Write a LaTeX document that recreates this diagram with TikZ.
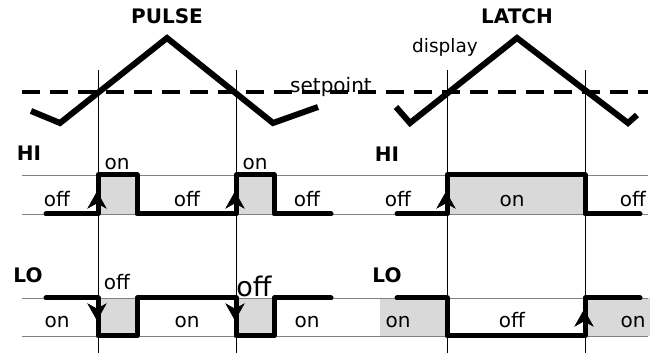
\documentclass[tikz,border=0pt]{standalone}
\usepackage{fontspec}
\setmainfont{DejaVu Sans}
\definecolor{fillgray}{HTML}{D9D9D9}
\definecolor{thingray}{HTML}{808080}
\tikzset{
  sig/.style={line width=5pt, line join=round, line cap=round},
  tri/.style={line width=6pt, line join=miter},
  thinline/.style={line width=0.9pt, draw=thingray},
  vline/.style={line width=0.9pt, draw=black},
  shade/.style={fill=fillgray, draw=none},
  lbl/.style={inner sep=0pt, anchor=base, font=\fontsize{20}{24}\selectfont},
  bigl/.style={inner sep=0pt, anchor=base, font=\fontsize{27}{31}\selectfont},
  ttl/.style={inner sep=0pt, anchor=base, font=\fontsize{20}{24}\selectfont\bfseries},
  ahead/.style={fill=black, draw=black, line width=0.6pt, line join=miter},
}
\newcommand\uparrowhead[2]{\filldraw[ahead] (#1,#2) -- (#1-9,#2+16) -- (#1,#2+11) -- (#1+9,#2+16) -- cycle;}
\newcommand\downarrowhead[2]{\filldraw[ahead] (#1,#2) -- (#1-9,#2-16) -- (#1,#2-11) -- (#1+9,#2-16) -- cycle;}
\begin{document}
\begin{tikzpicture}[x=1pt,y=-1pt]
\useasboundingbox (0,0) rectangle (654,355);
% shaded regions
\fill[shade] (98,175) rectangle (137,214);
\fill[shade] (236,175) rectangle (274,214);
\fill[shade] (447,175) rectangle (585,214);
\fill[shade] (98,298) rectangle (137,336);
\fill[shade] (236,298) rectangle (274,336);
\fill[shade] (380,298) rectangle (447,336);
\fill[shade] (585,298) rectangle (650,336);
% thin gray level lines
\draw[thinline] (22,175) -- (648,175);
\draw[thinline] (22,214) -- (648,214);
\draw[thinline] (22,298) -- (648,298);
\draw[thinline] (22,336) -- (648,336);
% vertical lines
\foreach \x in {98,236,447,585} \draw[vline] (\x,70) -- (\x,353);
% setpoint dashed
\draw[line width=3.5pt, dash pattern=on 18pt off 10pt] (22,92) -- (648,92);
% display triangles
\draw[tri] (31,111) -- (60,123) -- (167,38) -- (273,123) -- (318,107);
\draw[tri] (396,107) -- (410,123) -- (517,38) -- (628,123) -- (637,115);
% signals
\draw[sig] (46,214) -- (98,214) -- (98,175) -- (137,175) -- (137,214) -- (236,214) -- (236,175) -- (274,175) -- (274,214) -- (331,214);
\draw[sig] (397,214) -- (447,214) -- (447,175) -- (585,175) -- (585,214) -- (640,214);
\draw[sig] (46,298) -- (98,298) -- (98,336) -- (137,336) -- (137,298) -- (236,298) -- (236,336) -- (274,336) -- (274,298) -- (331,298);
\draw[sig] (397,298) -- (447,298) -- (447,336) -- (585,336) -- (585,298) -- (640,298);
% arrowheads
\uparrowhead{97}{192}
\uparrowhead{235}{192}
\uparrowhead{446}{192}
\downarrowhead{97}{320}
\downarrowhead{235}{320}
\uparrowhead{584}{310}
% titles
\node[ttl] (tpulse) at (167,24) {PULSE};
\node[ttl] (tlatch) at (517,24) {LATCH};
\node[ttl] (hil) at (29,161) {HI};
\node[ttl] (hir) at (387,162) {HI};
\node[ttl] (lol) at (28,283) {LO};
\node[ttl] (lor) at (387,283) {LO};
% annotations
\node[lbl] (setp) at (331,93) {setpoint};
\node[lbl, font=\fontsize{18.5}{22}\selectfont] (disp) at (445,53) {display};
% HI labels
\node[lbl] (h1) at (57,207) {off};
\node[lbl] (h2) at (117,170) {on};
\node[lbl] (h3) at (187,207) {off};
\node[lbl] (h4) at (255,170) {on};
\node[lbl] (h5) at (307,207) {off};
\node[lbl] (h6) at (398,207) {off};
\node[lbl] (h7) at (512,207) {on};
\node[lbl] (h8) at (633,207) {off};
% LO labels
\node[lbl] (l1) at (57,328) {on};
\node[lbl] (l2) at (117,290) {off};
\node[lbl] (l3) at (187,328) {on};
\node[bigl] (l4) at (254,297) {off};
\node[lbl] (l5) at (307,328) {on};
\node[lbl] (l6) at (398,328) {on};
\node[lbl] (l7) at (512,328) {off};
\node[lbl] (l8) at (633,328) {on};
\end{tikzpicture}
\end{document}
